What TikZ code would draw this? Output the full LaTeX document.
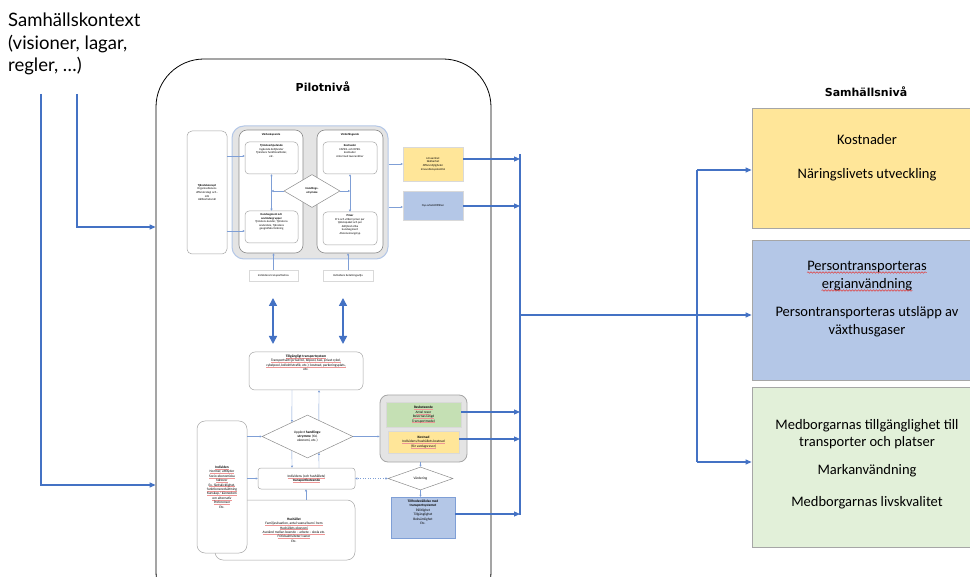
\documentclass[tikz,border=0pt]{standalone}
\usepackage{fontspec}
\setmainfont{Carlito}
\newfontfamily\latof{Lato}
\newfontfamily\dvs{DejaVu Sans}
\usetikzlibrary{arrows.meta,shapes.geometric,decorations.pathmorphing,calc}

\definecolor{lineblue}{HTML}{4472C4}
\definecolor{thinblue}{HTML}{7F9FD6}
\definecolor{boxgray}{HTML}{A6A6A6}
\definecolor{groupfill}{HTML}{E4E4E4}
\definecolor{groupedge}{HTML}{B4C7E7}
\definecolor{softyellow}{HTML}{FFE699}
\definecolor{softblue}{HTML}{B4C7E7}
\definecolor{softgreen}{HTML}{C5E0B4}
\definecolor{palegreen}{HTML}{E2F0D9}
\definecolor{spellred}{HTML}{E04040}

% thin red mark under a word or line
\newsavebox\rulbox
\newcommand\rul[1]{\sbox\rulbox{#1}\rlap{\color{spellred!55}\rule[-0.6pt]{\wd\rulbox}{0.18pt}}\usebox\rulbox}

% box from corner (x1,y1) to corner (x2,y2): name, x1, y1, x2, y2, style, text
\newcommand\bx[7]{\node[#6, minimum width={(#4)-(#2)}, minimum height={(#5)-(#3)}] (#1) at ({((#2)+(#4))/2},{((#3)+(#5))/2}) {#7};}

\tikzset{
  tinytxt/.style={font=\fontsize{2.9}{3.6}\selectfont, align=center, inner sep=0pt},
  smalltxt/.style={font=\fontsize{3.5}{4.4}\selectfont, align=center, inner sep=0pt},
  card/.style={draw=boxgray, line width=0.5pt, fill=white, rounded corners=#1, inner sep=0pt},
  card/.default=4pt,
  panel/.style={draw=black!45, line width=0.6pt, fill=white, rounded corners=8pt, inner sep=0pt},
  group/.style={draw=groupedge, line width=1pt, fill=groupfill, rounded corners=12pt, inner sep=0pt},
  group2/.style={draw=boxgray, line width=0.8pt, fill=groupfill, rounded corners=8pt, inner sep=0pt},
  note/.style={draw=black!15, line width=0.4pt, inner sep=0pt},
  smallcard/.style={draw=black!15, line width=0.4pt, fill=white, inner sep=0pt},
  diam/.style={shape=diamond, draw=black!45, line width=0.5pt, fill=white, inner sep=0pt},
  pilotbox/.style={draw=black, line width=0.8pt, rounded corners=48pt, inner sep=0pt},
  rbox/.style={draw=boxgray, line width=0.8pt, inner sep=0pt},
  mainline/.style={draw=lineblue, line width=1.1pt},
  arr/.style={mainline, -{Triangle[length=6pt,width=5pt]}},
  thinarr/.style={draw=thinblue, line width=0.45pt, -{Triangle[length=2pt,width=2pt]}},
  thinboth/.style={draw=thinblue, line width=0.45pt, {Triangle[length=2pt,width=2pt]}-{Triangle[length=2pt,width=2pt]}},
  dotarr/.style={draw=thinblue, line width=0.5pt, dotted, {Triangle[length=2.2pt,width=2.2pt]}-{Triangle[length=2.2pt,width=2.2pt]}},
  dblarr/.style={draw=lineblue, line width=1.6pt, {Triangle[length=8pt,width=8pt]}-{Triangle[length=8pt,width=8pt]}},
  headfont/.style={font=\dvs\bfseries\fontsize{11}{13}\selectfont, inner sep=0pt},
  bigtxt/.style={font=\fontsize{14.5}{17}\selectfont, text height=10pt, text depth=3pt, inner sep=0pt},
  squiggle/.style={draw=spellred, line width=0.5pt, decorate, decoration={snake, amplitude=0.7pt, segment length=3pt}},
  ctxtxt/.style={font=\latof\fontsize{18.5}{22.5}\selectfont, align=left, inner sep=0pt}
}

\begin{document}
\begin{tikzpicture}[x=1pt,y=-1pt]
\useasboundingbox (0,0) rectangle (970,577);
\fill[white] (0,0) rectangle (970,577);
\clip (0,0) rectangle (970,577);

% ---------- society context ----------
\node[ctxtxt, anchor=north west] (ctx) at (8,13) {Samhällskontext\\(visioner, lagar,\\regler, …)};
\coordinate (c1) at (41,94);
\coordinate (c2) at (77,94);

% ---------- pilot level frame ----------
\node[pilotbox, minimum width=335, minimum height=561] (pilot) at (323.5,339.5) {};
\node[headfont] (pilot-t) at (323,87) {Pilotnivå};
\draw[arr] (c2) |- (pilot.west |- 0,227);
\draw[arr] (c1) |- (pilot.west |- 0,485);

% service concept group
\bx{grp}{232}{126}{388}{259}{group}{}
\bx{tk}{187}{131}{227}{254}{card=5pt, tinytxt}{\textbf{Tjänstekoncept}\\Organisationens\\affärsstrategi och -\\mål\\Hållbarhetsmål}
\bx{vs}{239}{130}{303}{253}{panel}{}
\bx{vf}{317}{130}{383}{253}{panel}{}
\node[tinytxt] (vs-t) at (271,135) {\textbf{Värdeskapande}};
\node[tinytxt] (vf-t) at (350,135) {\textbf{Värdefångande}};

\bx{te}{245}{142}{298}{174}{card}{}
\node[tinytxt, anchor=north] (te-t) at ([yshift=-2.5pt]te.north) {\textbf{Tjänsteerbjudande}\\Ingående deltjänster\\Tjänstens funktionaliteter,\\etc.};
\bx{ks}{245}{211}{298}{243}{card}{}
\node[tinytxt, anchor=north] (ks-t) at ([yshift=-2.5pt]ks.north) {\textbf{Kundsegment och}\\\textbf{användargrupper}\\Tjänstens kunder, Tjänstens\\användare, Tjänstens\\geografiska täckning};
\bx{ko}{323}{142}{377}{174}{card}{}
\node[tinytxt, anchor=north] (ko-t) at ([yshift=-2.5pt]ko.north) {\textbf{Kostnader}\\CAPEX- och OPEX-\\kostnader\\Antal med leverantörer};
\bx{pr}{323}{212}{377}{245}{card}{}
\node[tinytxt, anchor=north] (pr-t) at ([yshift=-2.5pt]pr.north) {\textbf{Priser}\\Pris och villkor/priser per\\tjänstepaket och per\\deltjänst olika\\kundsegment\\Abonnemangstyp};
\node[diam, tinytxt, minimum width=56, minimum height=33, aspect=1.7] (hu) at (312,191) {\textbf{Handlings-}\\\textbf{utrymme}};

\draw[thinarr] (tk.east |- 0,156) -- (te.west |- 0,156);
\draw[thinarr] (tk.east |- 0,231) -- (ks.west |- 0,231);
\draw[thinboth] (te.south) -- (ks.north);
\draw[thinboth] (ko.south) -- (pr.north);
\draw[thinarr] (hu.west) -- (hu.west -| te.south);
\draw[thinarr] (hu.east) -- (hu.east -| ko.south);

% outcomes of the service concept
\bx{ys}{403}{147}{463}{181}{note, fill=softyellow, tinytxt}{Lönsamhet\\Skalbarhet\\Affärsmöjligheter\\Innovationspotential}
\bx{bs}{403}{191}{463}{220}{note, fill=softblue, tinytxt}{Nya arbetstillfällen}
\draw[thinarr] (grp.east |- 0,164) -- (ys.west |- 0,164);
\draw[thinarr] (grp.east |- 0,207) -- (bs.west |- 0,207);

% individual needs below the group
\bx{ib}{249}{270}{298}{281}{smallcard, tinytxt}{Individens transportbehov}
\bx{ibv}{323}{270}{373}{281}{smallcard, tinytxt}{Individens betalningsvilja}
\draw[thinarr] (ib.north) -- (ib.north |- vs.south);
\draw[thinarr] (ibv.north) -- (ibv.north |- vf.south);

\coordinate (d1a) at (273,298);
\coordinate (d1b) at (273,344);
\coordinate (d2a) at (343,298);
\coordinate (d2b) at (343,344);
\draw[dblarr] (d1a) -- (d1b);
\draw[dblarr] (d2a) -- (d2b);

% transport system and behaviour
\bx{tts}{249}{352}{363}{390}{card=6pt}{}
\node[smalltxt, anchor=north] (tts-t) at ([yshift=-3pt]tts.north) {\textbf{\rul{Tillgängligt transportsystem}}\\\rul{Transportsätt (privat bil, bilpool, taxi, privat cykel,}\\\rul{cykelpool, kollektivtrafik, etc.); kostnad, parkeringsplats,}\\etc.};

\node[diam, smalltxt, minimum width=91, minimum height=43, aspect=2.1] (bd) at (307.5,436.5) {Upplevt \textbf{handlings-}\\\textbf{utrymme} (tid,\\ekonomi, etc.)};

\draw[thinarr] (tts.south -| 292,0) -- ($(bd.north)!0.34!(bd.west)$);
\draw[thinarr] ($(bd.north)!0.25!(bd.east)$) -- (tts.south -| 319,0);

\bx{hh}{215}{500}{355}{560}{card=8pt}{}
\node[smalltxt] (hh-t) at (294,530) {\textbf{Hushållet}\\\rul{Familjesituation, antal vuxna/barn i hem}\\\rul{Hushållets ekonomi}\\\rul{Avstånd mellan boende – arbete – skola etc.}\\\rul{Fritidsaktiviteter/vanor}\\Etc.};
\bx{ind}{197}{421}{247}{553}{card=8pt, smalltxt}{\textbf{\rul{Individen}}\\\rul{Normer, attityder}\\\rul{Socio-ekonomiska}\\\rul{faktorer}\\\rul{Ex. färdskicklighet,}\\\rul{funktionsnedsättning}\\\rul{Kunskap / kännedom}\\\rul{om alternativ}\\\rul{Preferenser}\\Etc.}
\bx{tb}{258}{468}{355}{489}{card=3pt, smalltxt}{\rul{Individens (och hushållets)}\\\textbf{\rul{transportbeteende}}}

\draw[thinarr] (ind.east |- bd.west) -- (bd.west);
\draw[thinarr] (ind.east |- tb.west) -- (tb.west);
\draw[thinarr] ($(bd.south)!0.34!(bd.west)$) -- (tb.north -| 292,0);
\draw[thinarr] (tb.north -| 319,0) -- ($(bd.south)!0.25!(bd.east)$);
\draw[thinarr] (hh.north -| 306,0) -- (tb.south -| 306,0);

% travel behaviour and cost
\bx{rg}{380}{395}{467}{462}{group2}{}
\bx{rb}{386}{402}{461}{427}{note, fill=softgreen, smalltxt}{\textbf{\rul{Resbeteende}}\\\rul{Antal resor}\\\rul{Resornas längd}\\\rul{Transportmedel}}
\bx{kd}{388}{431}{459}{453}{note, fill=softyellow, smalltxt}{\textbf{Kostnad}\\\rul{Individens/hushållets kostnad}\\\rul{(för vardagsresor)}}
\draw[thinarr] (bd.east) -- (rg.west |- bd.east);

\node[diam, smalltxt, minimum width=65, minimum height=23, aspect=2.8] (vd) at (420.5,478.5) {Värdering};
\draw[thinarr] (rg.south -| vd.north) -- (vd.north);
\bx{th}{391}{497}{455}{538}{note, fill=softblue, draw=thinblue}{}
\node[smalltxt, anchor=north] (th-t) at ([yshift=-3pt]th.north) {\textbf{Tillfredsställelse med}\\\textbf{transportsystemet}\\Pålitlighet\\Tillgänglighet\\Bekvämlighet\\Etc.};
\draw[thinarr] (vd.south) -- (th.north -| vd.south);
\draw[dotarr] (vd.west) -- (tb.east |- vd.west);

% ---------- collecting line ----------
\coordinate (bus-top) at (520,154);
\coordinate (bus-bot) at (520,515);
\draw[mainline] (bus-top) -- (bus-bot);
\draw[arr] (ys.east |- 0,159) -- (bus-top |- 0,159);
\draw[arr] (bs.east |- 0,206) -- (bus-top |- 0,206);
\draw[arr] (rb.east |- 0,412) -- (bus-top |- 0,412);
\draw[arr] (kd.east |- 0,439) -- (bus-top |- 0,439);
\draw[arr] (th.east |- 0,514) -- (bus-top |- 0,514);

% ---------- society level ----------
\node[headfont] (soc-t) at (866,92) {Samhällsnivå};
\bx{ry}{752}{108}{990}{228}{rbox, fill=softyellow}{}
\bx{rbl}{752}{240}{990}{380}{rbox, fill=softblue}{}
\bx{rgr}{752}{387}{990}{547}{rbox, fill=palegreen}{}

\coordinate (sp-top) at (697,170);
\coordinate (sp-bot) at (697,462);
\draw[arr] (bus-top |- 0,315) -- (rbl.west |- 0,315);
\draw[mainline] (sp-top) -- (sp-bot);
\draw[arr] (sp-top) -- (ry.west |- sp-top);
\draw[arr] (sp-bot) -- (rgr.west |- sp-bot);

\node[bigtxt] (ry-1) at (867,141) {Kostnader};
\node[bigtxt] (ry-2) at (867,175) {Näringslivets utveckling};

\node[bigtxt] (rbl-1) at (867,267) {Persontransporteras};
\node[bigtxt] (rbl-2) at (867,285) {ergianvändning};
\node[bigtxt] (rbl-3) at (867,313) {Persontransporteras utsläpp av};
\node[bigtxt] (rbl-4) at (867,331) {växthusgaser};
\draw[squiggle] ([yshift=1.2pt]rbl-1.south west) -- ([yshift=1.2pt]rbl-1.south east);
\draw[squiggle] ([yshift=1.2pt]rbl-2.south west) -- ([yshift=1.2pt]rbl-2.south east);

\node[bigtxt] (rgr-1) at (867,426) {Medborgarnas tillgänglighet till};
\node[bigtxt] (rgr-2) at (867,443) {transporter och platser};
\node[bigtxt] (rgr-3) at (867,471) {Markanvändning};
\node[bigtxt] (rgr-4) at (867,503) {Medborgarnas livskvalitet};
\end{tikzpicture}
\end{document}
